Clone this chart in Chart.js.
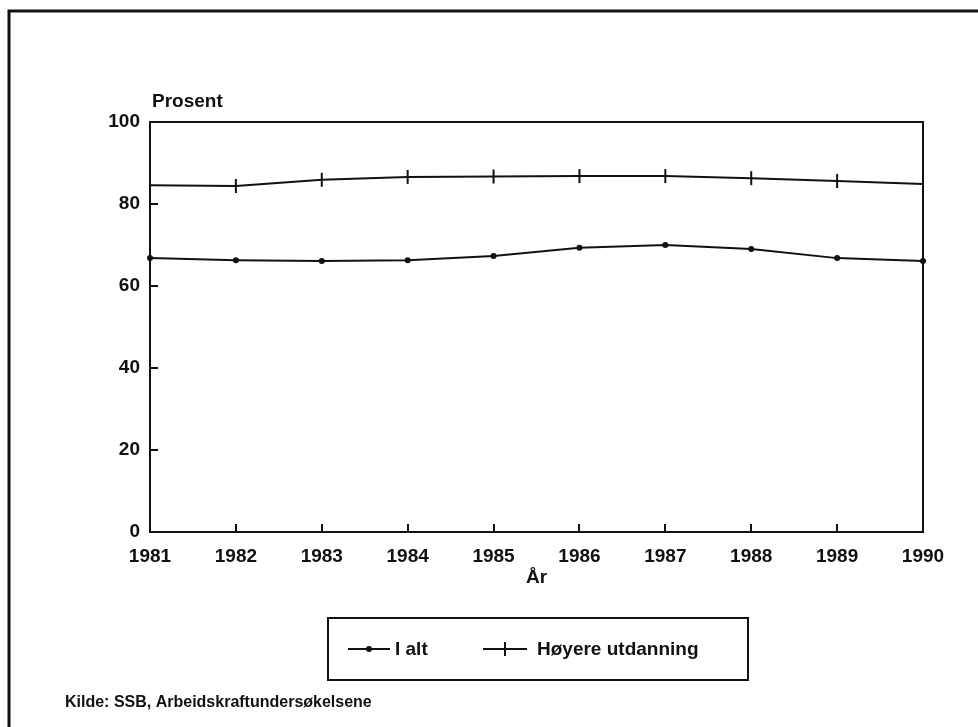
<!DOCTYPE html>
<html>
<head>
<meta charset="utf-8">
<script src="https://cdn.jsdelivr.net/npm/chart.js@4.4.1/dist/chart.umd.min.js"></script>
<style>
  html, body { margin: 0; padding: 0; background: #ffffff; }
  #wrap { position: relative; width: 978px; height: 727px; }
  canvas { display: block; }
</style>
</head>
<body>
<div id="wrap"><canvas id="c" width="978" height="727"></canvas></div>
<script>
// ---- Data ----
const years = ['1981','1982','1983','1984','1985','1986','1987','1988','1989','1990'];
const iAlt = [66.8, 66.3, 66.1, 66.3, 67.3, 69.3, 70.0, 69.0, 66.8, 66.1];
const hoyereUtdanning = [84.6, 84.4, 85.9, 86.6, 86.7, 86.8, 86.8, 86.3, 85.6, 84.9];
const yTicks = [0, 20, 40, 60, 80, 100];
const yAxisLabel = 'Prosent';
const xAxisLabel = 'År';
const sourceNote = 'Kilde: SSB, Arbeidskraftundersøkelsene';

const FONT = '"Liberation Sans", Arial, Helvetica, sans-serif';
const INK = '#111111';

const decorations = {
  id: 'decorations',
  afterDraw(chart) {
    const ctx = chart.ctx;
    const a = chart.chartArea;
    const xs = chart.scales.x, ys = chart.scales.y;
    ctx.save();
    ctx.strokeStyle = INK;
    ctx.fillStyle = INK;

    // outer frame (left and top only, as in scan)
    ctx.lineWidth = 3;
    ctx.beginPath();
    ctx.moveTo(9, 727);
    ctx.lineTo(9, 11);
    ctx.lineTo(978, 11);
    ctx.stroke();

    // plot box top & right
    ctx.lineWidth = 2;
    ctx.beginPath();
    ctx.moveTo(a.left, a.top);
    ctx.lineTo(a.right, a.top);
    ctx.lineTo(a.right, a.bottom);
    ctx.stroke();

    // inward ticks
    ctx.lineWidth = 2;
    ctx.beginPath();
    yTicks.forEach(v => {
      if (v === 0 || v === 100) return;
      const y = Math.round(ys.getPixelForValue(v));
      ctx.moveTo(a.left, y);
      ctx.lineTo(a.left + 8, y);
    });
    years.forEach((yr, i) => {
      if (i === 0 || i === years.length - 1) return;
      const x = Math.round(xs.getPixelForValue(i));
      ctx.moveTo(x, a.bottom);
      ctx.lineTo(x, a.bottom - 8);
    });
    ctx.stroke();

    // axis titles
    ctx.font = 'bold 19px ' + FONT;
    ctx.textBaseline = 'middle';
    ctx.textAlign = 'left';
    ctx.fillText(yAxisLabel, a.left + 2, a.top - 20);
    ctx.textAlign = 'center';
    ctx.fillText(xAxisLabel, (a.left + a.right) / 2, 578);

    // legend box
    const lx = 328, ly = 618, lw = 420, lh = 62;
    ctx.lineWidth = 2;
    ctx.strokeRect(lx, ly, lw, lh);
    const cy = ly + lh / 2;
    const entries = [
      { ds: chart.data.datasets[0], x0: 348, x1: 390, tx: 395 },
      { ds: chart.data.datasets[1], x0: 483, x1: 527, tx: 537 }
    ];
    entries.forEach(e => {
      ctx.lineWidth = 2;
      ctx.beginPath();
      ctx.moveTo(e.x0, cy);
      ctx.lineTo(e.x1, cy);
      ctx.stroke();
      const mx = (e.x0 + e.x1) / 2;
      if (e.ds.pointStyle === 'circle') {
        ctx.beginPath();
        ctx.arc(mx, cy, 3, 0, Math.PI * 2);
        ctx.fill();
      } else {
        ctx.beginPath();
        ctx.moveTo(mx, cy - 7);
        ctx.lineTo(mx, cy + 7);
        ctx.stroke();
      }
      ctx.font = 'bold 19px ' + FONT;
      ctx.textAlign = 'left';
      ctx.textBaseline = 'middle';
      ctx.fillText(e.ds.label, e.tx, cy + 1);
    });

    // source note
    ctx.font = 'bold 16px ' + FONT;
    ctx.textAlign = 'left';
    ctx.textBaseline = 'middle';
    ctx.fillText(sourceNote, 65, 703);
    ctx.restore();
  }
};

new Chart(document.getElementById('c'), {
  type: 'line',
  data: {
    labels: years,
    datasets: [
      {
        label: 'I alt',
        data: iAlt,
        borderColor: INK,
        backgroundColor: INK,
        borderWidth: 2,
        pointStyle: 'circle',
        pointRadius: 3,
        pointBorderWidth: 0,
        pointBackgroundColor: INK,
        tension: 0
      },
      {
        label: 'Høyere utdanning',
        data: hoyereUtdanning,
        borderColor: INK,
        backgroundColor: INK,
        borderWidth: 2,
        pointStyle: 'line',
        pointRotation: 90,
        pointRadius: 7,
        pointBorderWidth: 2,
        pointBorderColor: INK,
        tension: 0
      }
    ]
  },
  options: {
    responsive: false,
    animation: false,
    events: [],
    layout: { padding: { left: 0, right: 55, top: 122, bottom: 0 } },
    plugins: {
      legend: { display: false },
      title: { display: false },
      tooltip: { enabled: false }
    },
    scales: {
      x: {
        type: 'category',
        offset: false,
        grid: { display: false, drawTicks: false },
        border: { display: true, color: INK, width: 2 },
        ticks: {
          color: INK,
          padding: 13,
          maxRotation: 0,
          autoSkip: false,
          font: { family: FONT, size: 19, weight: 'bold' }
        },
        afterFit(scale) { scale.height = 195; }
      },
      y: {
        min: 0,
        max: 100,
        grid: { display: false, drawTicks: false },
        border: { display: true, color: INK, width: 2 },
        ticks: {
          color: INK,
          stepSize: 20,
          padding: 10,
          font: { family: FONT, size: 19, weight: 'bold' }
        },
        afterBuildTicks(scale) { scale.ticks = yTicks.map(v => ({ value: v })); },
        afterFit(scale) { scale.width = 150; }
      }
    }
  },
  plugins: [decorations]
});
</script>
</body>
</html>
